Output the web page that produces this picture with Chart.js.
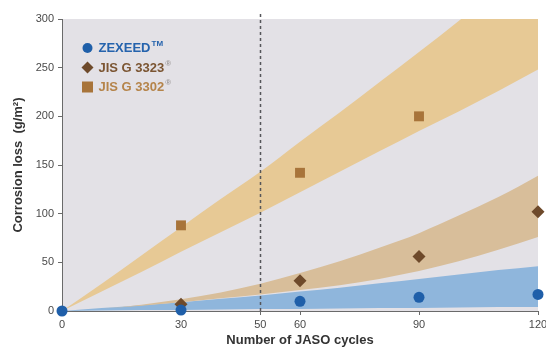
<!DOCTYPE html>
<html>
<head>
<meta charset="utf-8">
<script src="https://cdn.jsdelivr.net/npm/chart.js@4.4.0/dist/chart.umd.min.js"></script>
<style>
  html, body { margin: 0; padding: 0; background: #fff; }
  #wrap { width: 546px; height: 349px; position: relative; }
</style>
</head>
<body>
<div id="wrap"><canvas id="corrosion"></canvas></div>
<script>
// measured points
const cycles = [0, 30, 60, 90, 120];
const zexeed = [0, 1, 10, 14, 17];
const jis3323 = [null, 7, 31, 56, 102];
const jis3302 = [null, 88, 142, 200, null];

// band outlines
const bandCycles = [0, 10, 20, 30, 40, 50, 60, 70, 80, 90, 100, 110, 120];
const zexeedLow = [0, 0.5, 1, 1, 1.5, 2, 2, 2.5, 3, 3, 3.5, 4, 4];
const zexeedHigh = [0, 3, 6, 9, 12.5, 16, 20, 24, 28.5, 33, 37.5, 42, 46];
const jis3323Low = [0, 2.5, 5.5, 9, 13, 17, 21.5, 26.5, 33, 41, 51, 63, 76];
const jis3323High = [0, 2.5, 6.5, 12, 19, 28, 39, 51, 65, 80, 98, 117, 139];
const jis3302Low = [0, 20, 40, 61, 81, 101, 122, 143, 164, 185, 205, 226, 248];
const jis3302High = [0, 28, 57, 86, 115, 143, 174, 204, 235, 266, 298, 330, 362];

const xTicks = [0, 30, 50, 60, 90, 120];
const yTicks = [0, 50, 100, 150, 200, 250, 300];
const markerCycle = 50;

const FONT = '"Liberation Sans", Arial, Helvetica, sans-serif';
Chart.defaults.font.family = FONT;

function pts(xs, ys) {
    return xs.map((x, i) => ({x: x, y: ys[i]}));
}

function band(name, lo, hi, color) {
    return [
        {type: 'line', label: name + ' low', data: pts(bandCycles, lo), borderWidth: 0, borderColor: 'transparent',
         pointRadius: 0, fill: false, cubicInterpolationMode: 'monotone', order: 10},
        {type: 'line', label: name + ' high', data: pts(bandCycles, hi), borderWidth: 0, borderColor: 'transparent',
         pointRadius: 0, fill: '-1', backgroundColor: color, cubicInterpolationMode: 'monotone', order: 10}
    ];
}

function marks(name, ys, style, radius, color, order) {
    return {type: 'scatter', label: name, data: pts(cycles, ys), pointStyle: style, pointRadius: radius,
            backgroundColor: color, borderColor: color, borderWidth: 0, clip: false, order: order};
}

const legendRows = [
    {text: 'ZEXEED', sup: 'TM', style: 'circle', mark: '#1f5fa9', color: '#2563ad', supColor: '#2563ad'},
    {text: 'JIS G 3323', sup: '®', style: 'diamond', mark: '#6e4a2b', color: '#7b5532', supColor: '#a09c9c'},
    {text: 'JIS G 3302', sup: '®', style: 'square', mark: '#a8743a', color: '#b5844a', supColor: '#a09c9c'}
];

const backdrop = {
    id: 'backdrop',
    beforeDraw(chart) {
        const {ctx, chartArea: a} = chart;
        ctx.save();
        ctx.fillStyle = '#fff';
        ctx.fillRect(0, 0, chart.width, chart.height);
        ctx.fillStyle = '#e3e1e6';
        ctx.fillRect(a.left, a.top, a.right - a.left, a.bottom - a.top);
        ctx.restore();
    },
    afterDatasetsDraw(chart) {
        const {ctx, chartArea: a} = chart;
        const x = Math.round(chart.scales.x.getPixelForValue(markerCycle)) + 0.5;
        ctx.save();
        ctx.strokeStyle = '#55565a';
        ctx.lineWidth = 1.5;
        ctx.setLineDash([3, 3]);
        ctx.beginPath();
        ctx.moveTo(x, a.top - 5);
        ctx.lineTo(x, a.bottom);
        ctx.stroke();
        ctx.restore();
    },
    afterDraw(chart) {
        const {ctx, chartArea: a} = chart;
        ctx.save();
        legendRows.forEach((row, i) => {
            const mx = a.left + 25.5, my = a.top + 29 + i * 19.5;
            ctx.fillStyle = row.mark;
            ctx.beginPath();
            if (row.style === 'circle') {
                ctx.arc(mx, my, 5, 0, Math.PI * 2);
            } else if (row.style === 'diamond') {
                ctx.moveTo(mx, my - 6); ctx.lineTo(mx + 6, my); ctx.lineTo(mx, my + 6); ctx.lineTo(mx - 6, my);
                ctx.closePath();
            } else {
                ctx.rect(mx - 5.5, my - 5.5, 11, 11);
            }
            ctx.fill();
            ctx.font = 'bold 13px ' + FONT;
            ctx.textBaseline = 'middle';
            ctx.fillStyle = row.color;
            ctx.fillText(row.text, mx + 11, my + 0.5);
            const w = ctx.measureText(row.text).width;
            ctx.font = 'bold 8px ' + FONT;
            ctx.fillStyle = row.supColor;
            ctx.fillText(row.sup, mx + 12 + w, my - 4);
        });
        ctx.restore();
    }
};

new Chart(document.getElementById('corrosion'), {
    data: {
        datasets: [
            marks('ZEXEED', zexeed, 'circle', 5.5, '#1f5fa9', 1),
            marks('JIS G 3323', jis3323, 'rectRot', 6.5, '#6e4a2b', 2),
            marks('JIS G 3302', jis3302, 'rect', 7, '#a8743a', 3),
            ...band('JIS G 3302', jis3302Low, jis3302High, '#e7c995'),
            ...band('JIS G 3323', jis3323Low, jis3323High, '#d8be9a'),
            ...band('ZEXEED', zexeedLow, zexeedHigh, '#8fb6dc')
        ]
    },
    options: {
        responsive: true,
        maintainAspectRatio: false,
        animation: false,
        layout: { padding: {top: 19, right: 8, left: 0, bottom: 0} },
        plugins: {
            legend: {display: false},
            tooltip: {enabled: false}
        },
        scales: {
            x: {
                type: 'linear', min: 0, max: 120,
                afterBuildTicks: s => { s.ticks = xTicks.map(v => ({value: v})); },
                afterFit: s => { s.height = 38; s.paddingLeft = 0; s.paddingRight = 0; },
                border: {display: true, color: '#6a6a6a', width: 1},
                grid: {drawOnChartArea: false, tickLength: 4, color: '#6a6a6a'},
                ticks: {color: '#4a4a4a', font: {size: 11}, padding: 3, maxRotation: 0, autoSkip: false},
                title: {display: true, text: 'Number of JASO cycles', color: '#333',
                        font: {size: 13, weight: 'bold'}, padding: {top: 0, bottom: 1}}
            },
            y: {
                type: 'linear', min: 0, max: 300,
                afterBuildTicks: s => { s.ticks = yTicks.map(v => ({value: v})); },
                afterFit: s => { s.width = 62; s.paddingTop = 0; s.paddingBottom = 0; },
                border: {display: true, color: '#6a6a6a', width: 1},
                grid: {drawOnChartArea: false, tickLength: 4, color: '#6a6a6a'},
                ticks: {color: '#4a4a4a', font: {size: 11}, padding: 4},
                title: {display: true, text: 'Corrosion loss  (g/m²)', color: '#333',
                        font: {size: 13, weight: 'bold'}, padding: {top: 11, bottom: 0}}
            }
        }
    },
    plugins: [backdrop]
});
</script>
</body>
</html>
